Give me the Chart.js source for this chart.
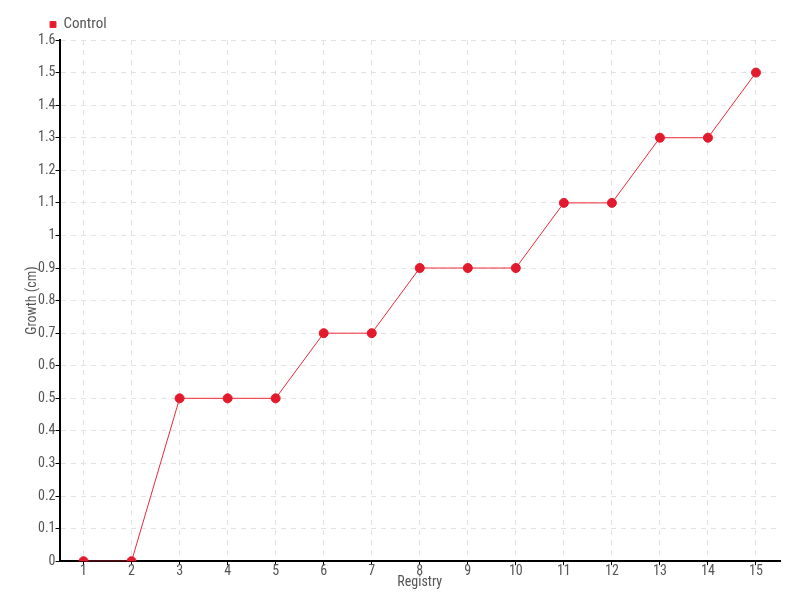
<!DOCTYPE html>
<html>
<head>
<meta charset="utf-8">
<script src="https://cdn.jsdelivr.net/npm/chart.js@4"></script>
<style>
html,body{margin:0;padding:0;background:#fff;}
#wrap{width:800px;height:600px;}
</style>
</head>
<body>
<div id="wrap"><canvas id="c" width="800" height="600"></canvas></div>
<script>
const categories = ['1','2','3','4','5','6','7','8','9','10','11','12','13','14','15'];
const controlValues = [0,0,0.5,0.5,0.5,0.7,0.7,0.9,0.9,0.9,1.1,1.1,1.3,1.3,1.5];
const seriesName = 'Control';
const xTitle = 'Registry';
const yTitle = 'Growth (cm)';

const FONT = "'Roboto Condensed','DejaVu Sans',sans-serif";
Chart.defaults.font.family = FONT;
Chart.defaults.font.size = 14;
Chart.defaults.font.weight = 400;
Chart.defaults.color = '#555';

const legendShift = {
  id: 'legendShift',
  afterLayout(chart) {
    if (chart.legend) { chart.legend.left = 47; chart.legend.top += 2; }
  }
};

new Chart(document.getElementById('c'), {
  type: 'line',
  data: {
    labels: categories,
    datasets: [{
      label: seriesName,
      data: controlValues,
      borderColor: '#f0283a',
      backgroundColor: '#e31a2b',
      borderWidth: 1,
      pointRadius: 4.5,
      pointBackgroundColor: '#e31a2b',
      pointBorderColor: '#e31a2b',
      pointBorderWidth: 1,
      tension: 0,
      fill: false
    }]
  },
  options: {
    responsive: false,
    animation: false,
    devicePixelRatio: 1,
    layout: { padding: { left: 20, right: 20, top: 12, bottom: 11 } },
    plugins: {
      legend: {
        display: true,
        position: 'top',
        align: 'start',
        labels: { boxWidth: 6, boxHeight: 6, padding: 3, font: { size: 15 }, color: '#555' }
      },
      tooltip: { enabled: false }
    },
    scales: {
      x: {
        offset: true,
        grid: { offset: false, color: '#e2e2e2', tickColor: '#000', tickLength: 4, drawTicks: true },
        border: { color: '#000', width: 2, dash: [5, 5] },
        ticks: { padding: -2, color: '#555', font: { size: 14 }, maxRotation: 0 },
        title: { display: true, text: xTitle, color: '#555', font: { size: 14, lineHeight: 1 }, padding: { top: -3, bottom: 0 } }
      },
      y: {
        min: 0, max: 1.6,
        grid: { color: '#e2e2e2', tickColor: '#000', tickLength: 4, drawTicks: true },
        border: { color: '#000', width: 2, dash: [5, 5] },
        ticks: {
          stepSize: 0.1, padding: 0, color: '#555', font: { size: 14 },
          callback: v => String(+Number(v).toFixed(1))
        },
        title: { display: true, text: yTitle, color: '#555', font: { size: 14, lineHeight: 1 }, padding: { top: 5, bottom: -1 } }
      }
    }
  },
  plugins: [legendShift]
});
</script>
</body>
</html>
